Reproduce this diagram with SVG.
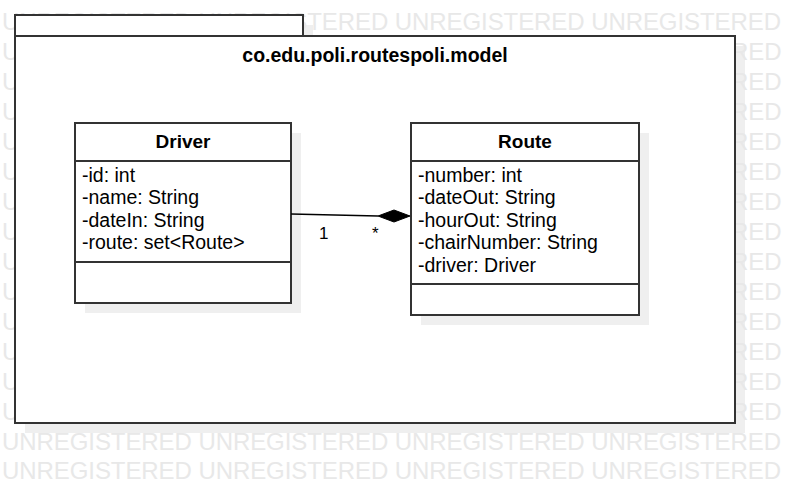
<svg xmlns="http://www.w3.org/2000/svg" width="795" height="483" viewBox="0 0 795 483">
<style>
.wm{font-family:"Liberation Sans",Arial,sans-serif;font-size:24px;fill:#e8e8e8}
.shadow{fill:#efefef}
.box{fill:#ffffff;stroke:#333333;stroke-width:2}
.sep{stroke:#333333;stroke-width:2}
.title{font-family:"Liberation Sans",Arial,sans-serif;font-size:19px;font-weight:bold;fill:#000}
.ptitle{font-family:"Liberation Sans",Arial,sans-serif;font-size:19.5px;font-weight:bold;fill:#000}
.attr{font-family:"Liberation Sans",Arial,sans-serif;font-size:19.5px;fill:#000}
.lbl{font-family:"Liberation Sans",Arial,sans-serif;font-size:17px;fill:#000}
.conn{stroke:#000;stroke-width:1.3;fill:none}
</style>
<rect width="795" height="483" fill="#ffffff"/>
<g id="shadows">
<rect class="shadow" x="25" y="25" width="288" height="21"/>
<rect class="shadow" x="25" y="46" width="720" height="387"/>
</g>
<g id="watermark">
<text class="wm" x="2" y="30" textLength="779" lengthAdjust="spacing">UNREGISTERED UNREGISTERED UNREGISTERED UNREGISTERED</text>
<text class="wm" x="2" y="60">U</text><text class="wm" x="715" y="60">ERED</text>
<text class="wm" x="2" y="90">U</text><text class="wm" x="715" y="90">ERED</text>
<text class="wm" x="2" y="120">U</text><text class="wm" x="715" y="120">ERED</text>
<text class="wm" x="2" y="150">U</text><text class="wm" x="715" y="150">ERED</text>
<text class="wm" x="2" y="180">U</text><text class="wm" x="715" y="180">ERED</text>
<text class="wm" x="2" y="210">U</text><text class="wm" x="715" y="210">ERED</text>
<text class="wm" x="2" y="240">U</text><text class="wm" x="715" y="240">ERED</text>
<text class="wm" x="2" y="270">U</text><text class="wm" x="715" y="270">ERED</text>
<text class="wm" x="2" y="300">U</text><text class="wm" x="715" y="300">ERED</text>
<text class="wm" x="2" y="330">U</text><text class="wm" x="715" y="330">ERED</text>
<text class="wm" x="2" y="360">U</text><text class="wm" x="715" y="360">ERED</text>
<text class="wm" x="2" y="390">U</text><text class="wm" x="715" y="390">ERED</text>
<text class="wm" x="2" y="420">U</text><text class="wm" x="715" y="420">ERED</text>
<text class="wm" x="2" y="450" textLength="779" lengthAdjust="spacing">UNREGISTERED UNREGISTERED UNREGISTERED UNREGISTERED</text>
<text class="wm" x="2" y="479" textLength="779" lengthAdjust="spacing">UNREGISTERED UNREGISTERED UNREGISTERED UNREGISTERED</text>
</g>
<g id="package">
<rect class="box" x="15" y="15" width="288" height="21"/>
<rect class="box" x="15" y="36" width="720" height="387"/>
<text class="ptitle" x="375" y="62" text-anchor="middle">co.edu.poli.routespoli.model</text>
</g>
<g id="Driver">
<rect class="shadow" x="85" y="133" width="216" height="180"/>
<rect class="box" x="75" y="123" width="216" height="180"/>
<line class="sep" x1="75" y1="161" x2="291" y2="161"/>
<line class="sep" x1="75" y1="262" x2="291" y2="262"/>
<text class="title" x="183" y="148" text-anchor="middle">Driver</text>
<text class="attr" x="82" y="182">-id: int</text>
<text class="attr" x="82" y="204">-name: String</text>
<text class="attr" x="82" y="227">-dateIn: String</text>
<text class="attr" x="82" y="249">-route: set&lt;Route&gt;</text>
</g>
<g id="Route">
<rect class="shadow" x="421" y="133" width="228" height="192"/>
<rect class="box" x="411" y="123" width="228" height="192"/>
<line class="sep" x1="411" y1="161" x2="639" y2="161"/>
<line class="sep" x1="411" y1="284" x2="639" y2="284"/>
<text class="title" x="525" y="148" text-anchor="middle">Route</text>
<text class="attr" x="418" y="182">-number: int</text>
<text class="attr" x="418" y="204">-dateOut: String</text>
<text class="attr" x="418" y="227">-hourOut: String</text>
<text class="attr" x="418" y="249">-chairNumber: String</text>
<text class="attr" x="418" y="272">-driver: Driver</text>
</g>
<g id="connectors">
<line class="conn" x1="291" y1="214" x2="378" y2="216"/>
<polygon points="410,216 394,210 378,216 394,222" fill="#000" stroke="#000" stroke-width="1"/>
<text class="lbl" x="319" y="239">1</text>
<text class="lbl" x="372" y="239">*</text>
</g>
</svg>
